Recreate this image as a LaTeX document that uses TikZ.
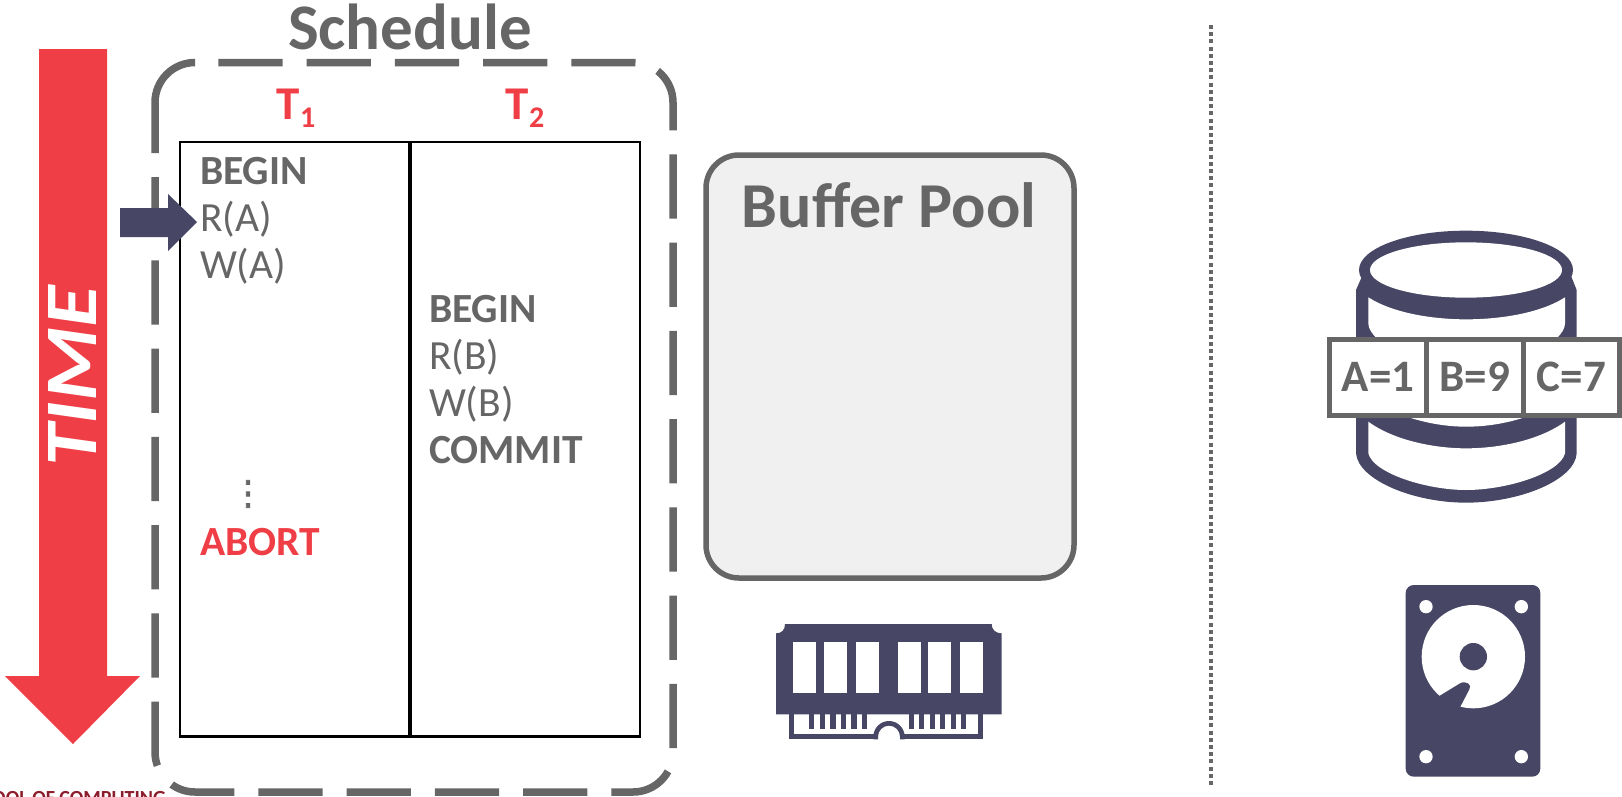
\documentclass[tikz,border=0pt]{standalone}
\usepackage{fontspec}
\setmainfont{Carlito}
\newfontfamily\symfont[FakeBold=2.5]{DejaVu Sans}
\usepackage{tikz}
\usetikzlibrary{positioning}
\definecolor{slategray}{HTML}{666666}
\definecolor{timered}{HTML}{EF3E45}
\definecolor{ironblue}{HTML}{474765}
\definecolor{schoolred}{HTML}{8C1D2C}
\newcommand{\sized}[1]{\fontsize{#1}{#1}\selectfont}

\begin{document}
\begin{tikzpicture}[x=1pt,y=-1pt,node distance=47pt,inner sep=0pt]
  \tikzstyle{op}=[text width=130pt,align=left,text height=24pt,text depth=8pt,
                  text=slategray,font=\sized{41.5}]
  \tikzstyle{cmd}=[op,font=\sized{41.5}\bfseries]
  \tikzstyle{txn}=[text=timered,font=\sized{47}\bfseries]
  \tikzstyle{cell}=[draw=slategray,line width=5pt,fill=white,minimum width=96.7pt,
                    minimum height=76pt,outer sep=0pt,text=slategray,font=\sized{45}\bfseries]
  \tikzstyle{iron}=[fill=ironblue,draw=none]
  \tikzstyle{frame}=[slategray,line width=7.5pt,rounded corners=40pt]

  \useasboundingbox (0,0) rectangle (1622,796);

  % time arrow
  \fill[timered] (39,49) -- (107,49) -- (107,676) -- (140,676) -- (73,744)
                 -- (5,676) -- (39,676) -- cycle;
  \node[rotate=90,text=white,font=\sized{74}\bfseries\itshape] (time) at (73,376)
       {\scalebox{1.15}[1]{TIME}};

  % schedule
  \draw[frame,dash pattern=on 64.25pt off 24pt,dash phase=64pt]
        (194,62.5) -- (673,62.5) -- (673,792) -- (155,792) -- (155,177);
  \draw[frame] (155,153) -- (155,62.5) -- (194,62.5);
  \node[text=slategray,font=\sized{65}\bfseries] (schedule) at (410,27) {Schedule};
  \node[txn] (t1) at (296,108) {T\raisebox{-8pt}{\sized{30}1}};
  \node[txn] (t2) at (525,108) {T\raisebox{-8pt}{\sized{30}2}};

  \draw[black,line width=2.2pt] (180,142) rectangle (640,736.5);
  \draw[black,line width=3.5pt] (410,142) -- (410,736.5);

  \node[cmd] (begina) at (265,176.5) {BEGIN};
  \node[op] (reada) [below of=begina] {R(A)};
  \node[op] (writea) [below of=reada] {W(A)};
  \node[text=slategray,font=\sized{34}\symfont] (dots) at (248,494) {⋮};
  \node[cmd,text=timered] (abort) at (265,547) {ABORT};

  \node[cmd] (beginb) at (494,314.5) {BEGIN};
  \node[op] (readb) [below of=beginb] {R(B)};
  \node[op] (writeb) [below of=readb] {W(B)};
  \node[cmd] (commit) [below of=writeb] {COMMIT};

  \fill[ironblue] (120,208) -- (168,208) -- (168,194) -- (197,222) -- (168,251)
                  -- (168,237) -- (120,237) -- cycle;

  % buffer pool
  \draw[slategray,line width=5.5pt,fill=black!6,rounded corners=33pt]
        (706,155) rectangle (1074,578);
  \node[text=slategray,font=\sized{64}\bfseries] (pool) at (889,205) {Buffer Pool};

  % memory stick
  \begin{scope}[shift={(740,600)},scale=1/3]
    \fill[iron] (135,72) -- (755,72) .. controls (755,90) and (768,100) .. (785,100)
                -- (785,343) -- (108,343) -- (108,100)
                .. controls (125,100) and (135,90) .. (135,72) -- cycle;
    \foreach \x in {160,252,347,474,565,660}
      \fill[white] (\x,127) rectangle +(69,153);
    \foreach \x in {207,239,271,302,334,365,506,537,569,600,632,663}
      \fill[iron] (\x,343) rectangle +(16,45);
    \fill[iron] (148,343) rectangle (163,418);
    \fill[iron] (715,343) rectangle (729,418);
    \fill[iron] (148,403) rectangle (402,418);
    \fill[iron] (492,403) rectangle (729,418);
    \fill[iron] (400,418) -- (400,410) arc[start angle=180,end angle=360,radius=47]
                -- (494,418) -- (480,418) -- (480,410)
                arc[start angle=360,end angle=180,radius=33] -- (414,418) -- cycle;
  \end{scope}

  % divider
  \draw[slategray,line width=4pt,dash pattern=on 4pt off 3.2pt] (1211,25) -- (1211,788);

  % database
  \begin{scope}[shift={(1300,210)},scale=1/3]
    \fill[iron] (168,240) -- (168,730) .. controls (175,810) and (340,878) .. (498,878)
                .. controls (660,878) and (825,810) .. (830,730) -- (830,240)
                -- (810,190) -- (190,190) -- cycle;
    \fill[iron] (498,180) ellipse[x radius=321,y radius=118];
    \fill[white] (498,180) ellipse[x radius=288,y radius=83];
    \fill[white] (205,262) .. controls (280,310) and (400,328) .. (498,328)
                 .. controls (600,328) and (720,310) .. (795,262) -- (795,340)
                 .. controls (795,355) and (785,370) .. (770,385) -- (680,620)
                 .. controls (620,640) and (560,650) .. (498,650)
                 .. controls (440,650) and (380,640) .. (320,620) -- (230,385)
                 .. controls (215,370) and (205,355) .. (205,340) -- cycle;
    \fill[white] (205,635) .. controls (280,690) and (400,715) .. (498,715)
                 .. controls (600,715) and (720,690) .. (795,635) -- (795,730)
                 .. controls (780,790) and (620,840) .. (498,840)
                 .. controls (380,840) and (220,790) .. (205,730) -- cycle;
  \end{scope}
  \node[cell] (vala) at (1378,377) {A=1};
  \node[cell] (valb) [right=0pt of vala] {B=9};
  \node[cell] (valc) [right=0pt of valb] {C=7};

  % disk
  \begin{scope}[shift={(1380,570)},scale=1/3]
    \fill[iron,rounded corners=8pt] (77,45) rectangle (481,620);
    \foreach \x in {138,424}
      \foreach \y in {110,560}
        \fill[white] (\x,\y) circle[radius=20];
    \fill[white] (280,260) circle[radius=155];
    \fill[iron] (280,260) circle[radius=41];
    \fill[iron] (178,378) -- (240,340) .. controls (258,330) and (278,345) .. (268,358)
                -- (240,412) -- (200,425) -- (150,395) -- cycle;
  \end{scope}

  \node[anchor=base east,text=schoolred,font=\sized{20}\bfseries] (school) at (166,804)
       {SCHOOL OF COMPUTING};
\end{tikzpicture}
\end{document}
